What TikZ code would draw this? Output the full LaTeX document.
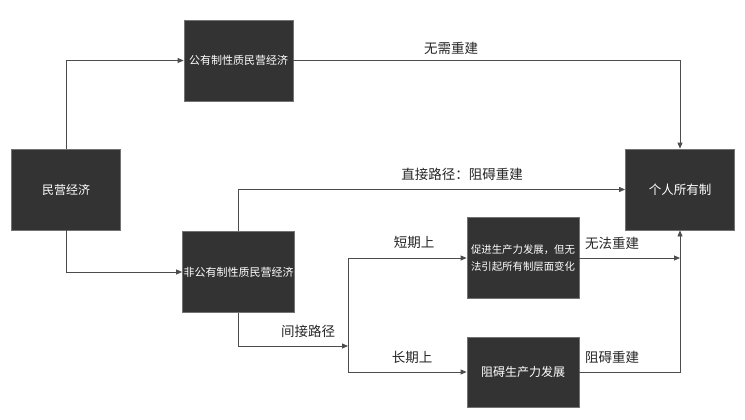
\documentclass[tikz,border=0pt]{standalone}
\usepackage{fontspec}
\setmainfont{Noto Sans CJK SC}
\usetikzlibrary{arrows.meta}
\begin{document}
\begin{tikzpicture}[x=1pt,y=-1pt,
  box/.style={draw=black!55,fill=black!80,text=white,minimum width=109pt,minimum height=81pt,inner sep=1pt,align=center,line width=0.8pt},
  conn/.style={draw=black!70,line width=0.8pt,-{Triangle[length=6pt,width=5pt]}},
  plain/.style={draw=black!70,line width=0.8pt},
  lbl/.style={font=\fontsize{13.5}{16}\selectfont,text=black!85}]
\useasboundingbox[fill=white] (0,0) rectangle (745,420);
\node[box,font=\fontsize{12}{14}\selectfont] (mj) at (66,189.5) {民营经济};
\node[box,font=\fontsize{11}{13}\selectfont] (gy) at (238.5,60.5) {公有制性质民营经济};
\node[box,font=\fontsize{11}{13}\selectfont] (fg) at (238.5,272) {非公有制性质民营经济};
\node[box,font=\fontsize{12.5}{15}\selectfont] (gr) at (680,189.5) {个人所有制};
\node[box,minimum width=112pt,font=\fontsize{10.4}{17}\selectfont] (cj) at (523,258) {促进生产力发展，但无\\法引起所有制层面变化};
\node[box,minimum width=112pt,minimum height=70pt,font=\fontsize{12}{14}\selectfont] (za) at (523,372) {阻碍生产力发展};
\coordinate (split) at (348,346);
\coordinate (stop) at (348,258);
\coordinate (sbot) at (348,372);
\coordinate (merge) at (680,258);
\draw[conn] (mj.north) |- (gy.west);
\draw[conn] (mj.south) |- (fg.west);
\draw[conn] (gy.east) -| (gr.north);
\draw[conn] (fg.north) |- (gr.west);
\draw[conn] (fg.south) |- (split);
\draw[plain] (stop) -- (sbot);
\draw[conn] (stop) -- (cj.west);
\draw[conn] (sbot) -- (za.west);
\draw[conn] (cj.east) -- (merge);
\draw[conn] (za.east) -| (gr.south);
\node[lbl] (l1) at (451,48) {无需重建};
\node[lbl] (l2) at (462,174) {直接路径：阻碍重建};
\node[lbl] (l3) at (308,331) {间接路径};
\node[lbl] (l4) at (414,242) {短期上};
\node[lbl] (l5) at (412,357) {长期上};
\node[lbl] (l6) at (612,243) {无法重建};
\node[lbl] (l7) at (612,357) {阻碍重建};
\end{tikzpicture}
\end{document}
